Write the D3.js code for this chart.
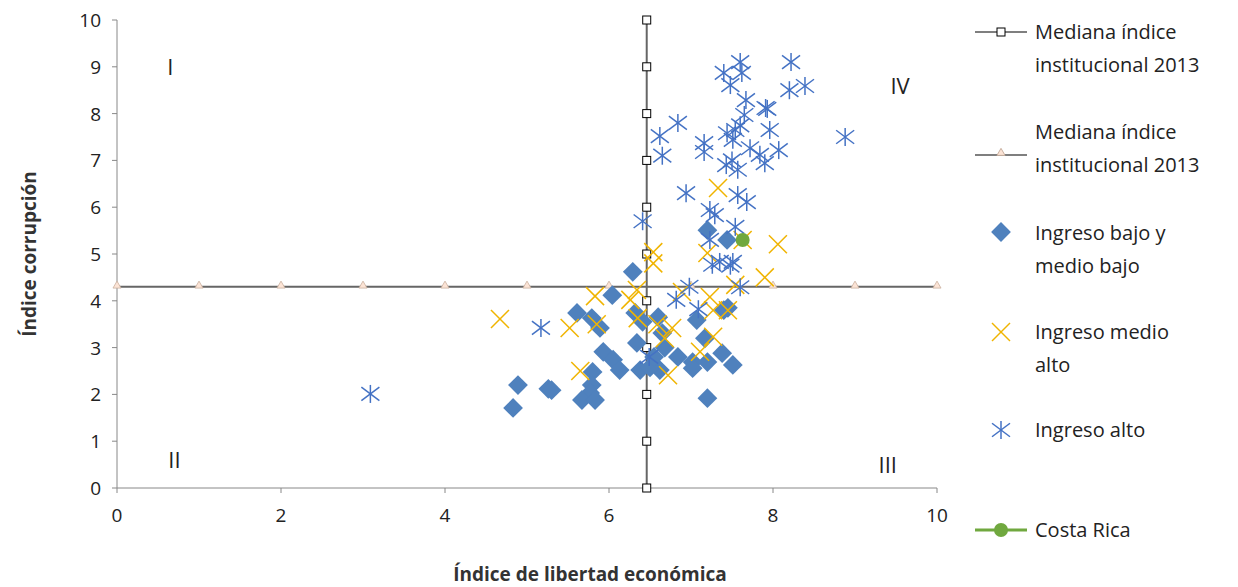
<!DOCTYPE html>
<html><head><meta charset="utf-8">
<script src="https://cdn.jsdelivr.net/npm/d3@7"></script>
<style>body{margin:0;background:#fff;font-family:"Open Sans","Liberation Sans",sans-serif;}</style>
</head><body><svg id="chart" width="1238" height="587"></svg>
<script>
const medianX = 6.46, medianY = 4.3;
const medianTicks = [0,1,2,3,4,5,6,7,8,9,10];
const xTicks = [0,2,4,6,8,10];
const yTicks = [0,1,2,3,4,5,6,7,8,9,10];

const bajo = [[4.89,2.2],[4.83,1.71],[5.26,2.12],[5.3,2.09],[5.61,3.74],[5.79,3.63],[5.89,3.42],[6.04,4.12],[6.29,4.62],
  [5.93,2.91],[6.05,2.74],[6.13,2.52],[5.8,2.48],[5.79,2.2],[5.77,2.03],[5.67,1.88],[5.83,1.88],[6.34,3.1],[6.38,2.52],
  [6.32,3.74],[6.41,3.55],[6.6,3.65],[6.65,3.31],[6.68,3.0],[6.62,2.52],[6.5,2.58],[6.84,2.8],[7.02,2.69],[7.2,2.69],
  [7.38,2.88],[7.51,2.63],[7.2,1.92],[7.17,3.2],[7.07,3.59],[7.45,3.85],[7.4,3.8],[7.44,5.3],[7.2,5.51],[7.02,2.56],[6.55,2.8]];
const medioAlto = [[4.67,3.61],[5.52,3.42],[5.83,4.1],[5.85,3.5],[5.65,2.5],[6.26,4.02],[6.34,4.23],[6.35,3.63],[6.59,3.5],
  [6.77,3.42],[6.72,2.41],[6.54,5.04],[6.54,4.8],[6.89,4.19],[7.2,5.02],[7.23,4.08],[7.27,3.8],[7.27,3.23],[7.11,2.91],
  [7.45,3.8],[7.54,4.34],[7.9,4.5],[8.06,5.21],[7.63,5.3],[7.33,6.41],[6.68,3.2]];
const alto = [[3.09,2.01],[5.17,3.42],[6.41,5.7],[6.49,2.8],[6.62,7.52],[6.65,7.1],[6.84,7.8],[6.94,6.3],[7.16,7.37],[7.16,7.18],
  [7.23,5.94],[7.29,5.83],[7.4,8.87],[7.48,8.61],[7.6,9.1],[7.62,8.87],[7.67,8.29],[7.65,7.97],[7.44,7.58],[7.54,7.65],
  [7.51,7.44],[7.6,7.75],[7.72,7.26],[7.91,8.12],[7.93,8.1],[8.2,8.5],[8.22,9.1],[8.39,8.59],[7.43,6.9],[7.5,7.0],[7.57,6.8],
  [7.68,6.11],[7.57,6.26],[7.84,7.12],[7.9,6.94],[7.96,7.65],[8.07,7.22],[8.88,7.5],[7.54,5.58],[7.26,4.77],[7.35,4.83],
  [7.51,4.83],[7.48,4.75],[7.23,5.3],[6.98,4.3],[6.82,4.02],[7.09,3.82],[7.6,4.29]];
const costaRica = [[7.63,5.3]];
const quadrants = [["I",0.65,9.0],["II",0.7,0.6],["III",9.4,0.5],["IV",9.55,8.6]];

const svg = d3.select('#chart');
const x = d3.scaleLinear().domain([0,10]).range([117,937]);
const y = d3.scaleLinear().domain([0,10]).range([488,20]);
const BLUE = '#4f81bd', DBLUE = '#4472c4', GOLD = '#f0b400', GREEN = '#70a83f';

// axes
svg.append('line').attr('x1',x(0)).attr('x2',x(10)).attr('y1',y(0)).attr('y2',y(0)).attr('stroke','#888');
svg.append('line').attr('x1',x(0)).attr('x2',x(0)).attr('y1',y(0)).attr('y2',y(10)).attr('stroke','#888');
xTicks.forEach(t => {
  svg.append('line').attr('x1',x(t)).attr('x2',x(t)).attr('y1',y(0)).attr('y2',y(0)+5).attr('stroke','#888');
  svg.append('text').text(t).attr('x',x(t)).attr('y',y(0)+34).attr('text-anchor','middle').attr('font-size',19).attr('fill','#222');
});
yTicks.forEach(t => {
  svg.append('line').attr('x1',x(0)-5).attr('x2',x(0)).attr('y1',y(t)).attr('y2',y(t)).attr('stroke','#888');
  svg.append('text').text(t).attr('x',x(0)-16).attr('y',y(t)+7).attr('text-anchor','end').attr('font-size',19).attr('fill','#222');
});
svg.append('text').text('Índice de libertad económica').attr('x',590).attr('y',581)
  .attr('text-anchor','middle').attr('font-size',19).attr('font-weight','bold').attr('fill','#333');
svg.append('text').text('Índice corrupción').attr('transform',`translate(36,${y(5)}) rotate(-90)`)
  .attr('text-anchor','middle').attr('font-size',19).attr('font-weight','bold').attr('fill','#333');

// median lines
svg.append('line').attr('x1',x(0)).attr('x2',x(10)).attr('y1',y(medianY)).attr('y2',y(medianY)).attr('stroke','#666').attr('stroke-width',2);
svg.append('line').attr('x1',x(medianX)).attr('x2',x(medianX)).attr('y1',y(0)).attr('y2',y(10)).attr('stroke','#666').attr('stroke-width',2);
const tri = d3.symbol().type(d3.symbolTriangle).size(28);
svg.selectAll('.tri').data(medianTicks).join('path').attr('d',tri)
  .attr('transform',d=>`translate(${x(d)},${y(medianY)-1})`).attr('fill','#fce4d6').attr('stroke','#c9b0a0').attr('stroke-width',0.8);
svg.selectAll('.sq').data(medianTicks).join('rect')
  .attr('x',x(medianX)-4).attr('y',d=>y(d)-4).attr('width',8).attr('height',8).attr('fill','#fff').attr('stroke','#000');

function star(g, cx, cy, r, color) {
  g.append('line').attr('x1',cx).attr('x2',cx).attr('y1',cy-r).attr('y2',cy+r).attr('stroke',color).attr('stroke-width',1.5);
  g.append('line').attr('x1',cx-r).attr('x2',cx+r).attr('y1',cy-r*0.75).attr('y2',cy+r*0.75).attr('stroke',color).attr('stroke-width',1.5);
  g.append('line').attr('x1',cx-r).attr('x2',cx+r).attr('y1',cy+r*0.75).attr('y2',cy-r*0.75).attr('stroke',color).attr('stroke-width',1.5);
}
function cross(g, cx, cy, r, color) {
  g.append('line').attr('x1',cx-r).attr('x2',cx+r).attr('y1',cy-r).attr('y2',cy+r).attr('stroke',color).attr('stroke-width',1.5);
  g.append('line').attr('x1',cx-r).attr('x2',cx+r).attr('y1',cy+r).attr('y2',cy-r).attr('stroke',color).attr('stroke-width',1.5);
}
function dia(g, cx, cy, color) {
  g.append('rect').attr('x',-7).attr('y',-7).attr('width',14).attr('height',14).attr('fill',color)
    .attr('transform',`translate(${cx},${cy}) rotate(45)`);
}

const gBajo = svg.append('g');
bajo.forEach(d => dia(gBajo, x(d[0]), y(d[1]), BLUE));
const gMedio = svg.append('g');
medioAlto.forEach(d => cross(gMedio, x(d[0]), y(d[1]), 9, GOLD));
const gAlto = svg.append('g');
alto.forEach(d => star(gAlto, x(d[0]), y(d[1]), 9, DBLUE));
svg.selectAll('.cr').data(costaRica).join('circle').attr('cx',d=>x(d[0])).attr('cy',d=>y(d[1])).attr('r',7).attr('fill',GREEN);

quadrants.forEach(q => svg.append('text').text(q[0]).attr('x',x(q[1])).attr('y',y(q[2])+8)
  .attr('text-anchor','middle').attr('font-size',22).attr('fill','#222'));

// legend
const lg = svg.append('g');
const LX = 975, TX = 1035;
function legText(lines, y0) {
  lines.forEach((l,i) => lg.append('text').text(l).attr('x',TX).attr('y',y0+i*33).attr('font-size',20).attr('fill','#222'));
}
lg.append('line').attr('x1',LX).attr('x2',LX+52).attr('y1',32).attr('y2',32).attr('stroke','#555').attr('stroke-width',1.5);
lg.append('rect').attr('x',LX+22).attr('y',28).attr('width',8).attr('height',8).attr('fill','#fff').attr('stroke','#000');
legText(['Mediana índice','institucional 2013'], 39);
lg.append('line').attr('x1',LX).attr('x2',LX+52).attr('y1',155).attr('y2',155).attr('stroke','#555').attr('stroke-width',1.5);
lg.append('path').attr('d',tri).attr('transform',`translate(${LX+26},153)`).attr('fill','#fce4d6').attr('stroke','#c9b0a0');
legText(['Mediana índice','institucional 2013'], 139);
dia(lg, LX+26, 232, BLUE);
legText(['Ingreso bajo y','medio bajo'], 240);
cross(lg, LX+26, 332, 9, GOLD);
legText(['Ingreso medio','alto'], 339);
star(lg, LX+26, 430, 9, DBLUE);
legText(['Ingreso alto'], 437);
lg.append('line').attr('x1',LX).attr('x2',LX+52).attr('y1',530).attr('y2',530).attr('stroke',GREEN).attr('stroke-width',3);
lg.append('circle').attr('cx',LX+26).attr('cy',530).attr('r',7).attr('fill',GREEN);
legText(['Costa Rica'], 537);
</script></body></html>
